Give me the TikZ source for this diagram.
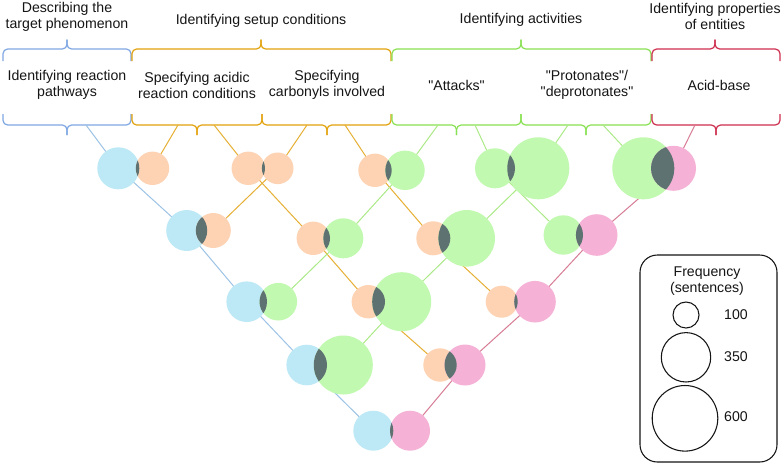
\documentclass[tikz,border=0pt]{standalone}
\usepackage{fontspec}
\setmainfont{Liberation Sans}
\definecolor{bfill}{HTML}{BDE9F6}
\definecolor{ofill}{HTML}{FDD3B4}
\definecolor{gfill}{HTML}{C2F9B0}
\definecolor{pfill}{HTML}{F5B2D6}
\definecolor{lens}{HTML}{5E7272}
\definecolor{bline}{HTML}{9DC3E6}
\definecolor{oline}{HTML}{E6B035}
\definecolor{gline}{HTML}{ACEA88}
\definecolor{pline}{HTML}{D77C95}
\definecolor{bbrace}{HTML}{7EA7E2}
\definecolor{obrace}{HTML}{E2A20C}
\definecolor{gbrace}{HTML}{88E152}
\definecolor{pbrace}{HTML}{CE2E4E}
\definecolor{ink}{HTML}{151515}
\newcommand\bracedn[4]{%
  \draw[bracestyle,#4] (#1,114) -- (#1,125) -- (#2,125) -- (#2,135);
  \draw[bracestyle,#4] (#3,114) -- (#3,125) -- (#2,125) -- (#2,135);}
\newcommand\braceupp[4]{%
  \draw[bracestyle,#4] (#1,61) -- (#1,49) -- (#2,49) -- (#2,39.5);
  \draw[bracestyle,#4] (#3,61) -- (#3,49) -- (#2,49) -- (#2,39.5);}
% #1 left coord, #2 left radius, #3 left colour, #4 right coord, #5 right radius, #6 right colour
\newcommand\vennpair[6]{%
  \fill[#3] (#1) circle[radius=#2*0.75pt];
  \fill[#6] (#4) circle[radius=#5*0.75pt];
  \begin{scope}
    \clip (#1) circle[radius=#2*0.75pt];
    \fill[lens] (#4) circle[radius=#5*0.75pt];
  \end{scope}}
\newcommand\qq{\textquotedbl}
\begin{document}
\begin{tikzpicture}[x=0.75pt,y=-0.75pt,
  bracestyle/.style={line width=0.9pt,rounded corners=3.5pt},
  conn/.style={line width=0.75pt},
  lbl/.style={font=\fontsize{10.6}{12}\selectfont,text=ink,align=center,inner sep=0pt},
  legcirc/.style={draw=ink,line width=0.8pt,circle,inner sep=0pt}]
\useasboundingbox (0,0) rectangle (784,465);
\fill[white] (0,0) rectangle (784,465);
% ---- texts
\node[lbl] (g1) at (67,17) {Describing the\\target phenomenon};
\node[lbl] (g2) at (261,21) {Identifying setup conditions};
\node[lbl] (g3) at (521,20) {Identifying activities};
\node[lbl] (g4) at (715,16) {Identifying properties\\of entities};
\node[lbl] (s1) at (67,85) {Identifying reaction\\pathways};
\node[lbl] (s2) at (197,85) {Specifying acidic\\reaction conditions};
\node[lbl] (s3) at (327,85) {Specifying\\carbonyls involved};
\node[lbl] (s4) at (456.5,85) {\qq Attacks\qq};
\node[lbl] (s5) at (587,85) {\qq Protonates\qq/\\\qq deprotonates\qq};
\node[lbl] (s6) at (719,85) {Acid-base};
% ---- braces
\braceupp{3}{67}{131}{bbrace}
\braceupp{132}{261}{391}{obrace}
\braceupp{392}{521}{651}{gbrace}
\braceupp{652}{715}{780}{pbrace}
\bracedn{3}{67}{131}{bbrace}
\bracedn{132}{197}{262}{obrace}
\bracedn{262}{327}{391}{obrace}
\bracedn{392}{456.5}{521}{gbrace}
\bracedn{521}{586}{651}{gbrace}
\bracedn{652}{716}{780}{pbrace}
% ---- coordinates
\coordinate (b1r) at (86,125);
\coordinate (b2l) at (178,125);
\coordinate (b2r) at (214,125);
\coordinate (b3l) at (307,125);
\coordinate (b3r) at (345,125);
\coordinate (b4l) at (438,125);
\coordinate (b4r) at (475,125);
\coordinate (b5l) at (568,125);
\coordinate (b5r) at (603,125);
\coordinate (b6l) at (695,125);
\coordinate (p12a) at (118.3,168.3); \coordinate (p12b) at (152.5,168.3);
\coordinate (p23a) at (248.3,168.3); \coordinate (p23b) at (277.7,168.3);
\coordinate (p34a) at (375,170.3);   \coordinate (p34b) at (405,170.3);
\coordinate (p45a) at (495,168.3);   \coordinate (p45b) at (538.3,168.3);
\coordinate (p56a) at (643.3,168.3); \coordinate (p56b) at (673.5,168.3);
\coordinate (p13a) at (186.7,230.5); \coordinate (p13b) at (213.3,230.5);
\coordinate (p24a) at (313.3,238.3); \coordinate (p24b) at (343.3,238.3);
\coordinate (p35a) at (433.3,238.3); \coordinate (p35b) at (466.7,238.3);
\coordinate (p46a) at (563.3,235);   \coordinate (p46b) at (596.7,235);
\coordinate (p14a) at (246.7,301.7); \coordinate (p14b) at (278.3,301.7);
\coordinate (p25a) at (368.3,301.7); \coordinate (p25b) at (401.7,301.7);
\coordinate (p36a) at (501.7,301.7); \coordinate (p36b) at (535,301.7);
\coordinate (p15a) at (306.7,365);   \coordinate (p15b) at (343.3,365);
\coordinate (p26a) at (440,365);     \coordinate (p26b) at (465,365);
\coordinate (p16a) at (373.3,430.7); \coordinate (p16b) at (410,430.7);
% ---- connectors
\draw[conn,bline] (b1r) -- (p12a) -- (p13a) -- (p14a) -- (p15a) -- (p16a);
\draw[conn,oline] (b2l) -- (p12b);
\draw[conn,oline] (b2r) -- (p23a) -- (p24a) -- (p25a) -- (p26a);
\draw[conn,oline] (b3l) -- (p23b) -- (p13b);
\draw[conn,oline] (b3r) -- (p34a) -- (p35a) -- (p36a);
\draw[conn,gline] (b4l) -- (p34b) -- (p24b) -- (p14b);
\draw[conn,gline] (b4r) -- (p45a) -- (p46a);
\draw[conn,gline] (b5l) -- (p45b) -- (p35b) -- (p25b) -- (p15b);
\draw[conn,gline] (b5r) -- (p56a);
\draw[conn,pline] (b6l) -- (p56b) -- (p46b) -- (p36b) -- (p26b) -- (p16b);
% ---- venn pairs
\vennpair{p12a}{21}{bfill}{p12b}{16.7}{ofill}
\vennpair{p23a}{16.7}{ofill}{p23b}{15.8}{ofill}
\vennpair{p34a}{16.7}{ofill}{p34b}{19.7}{gfill}
\vennpair{p45a}{20}{gfill}{p45b}{31}{gfill}
\vennpair{p56a}{31}{gfill}{p56b}{22.5}{pfill}
\vennpair{p13a}{20.5}{bfill}{p13b}{17.5}{ofill}
\vennpair{p24a}{16.7}{ofill}{p24b}{20}{gfill}
\vennpair{p35a}{17}{ofill}{p35b}{28.3}{gfill}
\vennpair{p46a}{19.7}{gfill}{p46b}{20.8}{pfill}
\vennpair{p14a}{20.3}{bfill}{p14b}{18.8}{gfill}
\vennpair{p25a}{16.7}{ofill}{p25b}{29.5}{gfill}
\vennpair{p36a}{16}{ofill}{p36b}{20.8}{pfill}
\vennpair{p15a}{20.3}{bfill}{p15b}{29.5}{gfill}
\vennpair{p26a}{16.7}{ofill}{p26b}{20.5}{pfill}
\vennpair{p16a}{20}{bfill}{p16b}{20}{pfill}
% ---- legend
\node[draw=ink,line width=0.8pt,rounded corners=13pt,minimum width=137*0.75pt,minimum height=207*0.75pt,inner sep=0pt] (legend) at (708.5,358.5) {};
\node[lbl] (legt) at (707,281.5) {Frequency\\(sentences)};
\node[legcirc,minimum size=26*0.75pt] (lc1) at (686,315) {};
\node[legcirc,minimum size=49.4*0.75pt] (lc2) at (686,357.3) {};
\node[legcirc,minimum size=65.6*0.75pt] (lc3) at (685,418.3) {};
\node[lbl] (ll1) at (736,315) {100};
\node[lbl] (ll2) at (736,357) {350};
\node[lbl] (ll3) at (736,417) {600};
\end{tikzpicture}
\end{document}
